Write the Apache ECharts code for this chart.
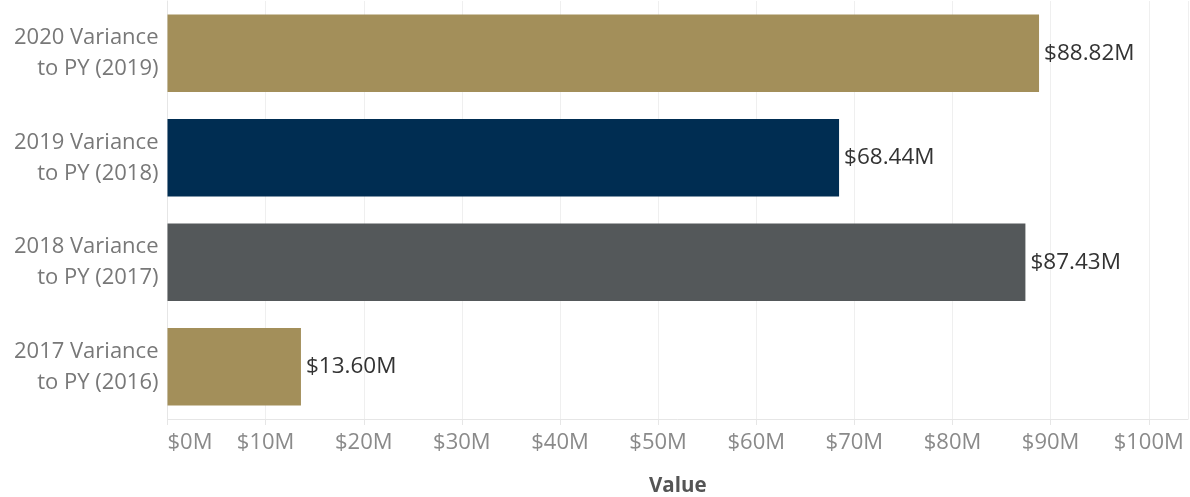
<!DOCTYPE html>
<html>
<head>
<meta charset="utf-8">
<script src="https://cdn.jsdelivr.net/npm/echarts@6/dist/echarts.min.js"></script>
<style>html,body{margin:0;padding:0;background:#fff;}#c{width:1190px;height:497px;}</style>
</head>
<body>
<div id="c"></div>
<script>
const categories = ['2020 Variance\nto PY (2019)', '2019 Variance\nto PY (2018)', '2018 Variance\nto PY (2017)', '2017 Variance\nto PY (2016)'];
const values = [88.82, 68.44, 87.43, 13.60];
const barColors = ['#A38F5A', '#002D52', '#54585A', '#A38F5A'];
const axisTitle = 'Value';

const chart = echarts.init(document.getElementById('c'));
chart.setOption({
  animation: false,
  grid: { left: 167.5, right: 2, top: 1, bottom: 78, containLabel: false, outerBoundsMode: 'none' },
  xAxis: {
    type: 'value', min: 0, max: 104, interval: 10,
    name: axisTitle, nameLocation: 'middle', nameGap: 57,
    nameTextStyle: { fontFamily: 'Open Sans', fontSize: 20.5, fontWeight: 'bold', color: '#555' },
    axisLine: { show: true, lineStyle: { color: '#e6e6e6', width: 1 } },
    axisTick: { show: true, length: 6, lineStyle: { color: '#e6e6e6' } },
    splitLine: { show: true, lineStyle: { color: '#efefef', width: 1 } },
    axisLabel: {
      fontFamily: 'Open Sans', fontSize: 22, color: '#8a8a8a', margin: 13,
      showMaxLabel: false, alignMinLabel: 'left',
      formatter: v => '$' + v + 'M'
    }
  },
  yAxis: {
    type: 'category', data: categories, inverse: true,
    axisLine: { show: true, lineStyle: { color: '#e6e6e6' } },
    axisTick: { show: false },
    axisLabel: { fontFamily: 'Open Sans', fontSize: 22, lineHeight: 31, color: '#787878', margin: 9, align: 'right', padding: [5, 0, 0, 0] }
  },
  series: [{
    type: 'bar',
    data: values.map((v, i) => ({ value: v, itemStyle: { color: barColors[i] } })),
    barCategoryGap: '26%',
    label: {
      show: true, position: 'right', distance: 5,
      fontFamily: 'Open Sans', fontSize: 22.5, color: '#333',
      formatter: p => '$' + p.value.toFixed(2) + 'M'
    }
  }]
});
</script>
</body>
</html>
